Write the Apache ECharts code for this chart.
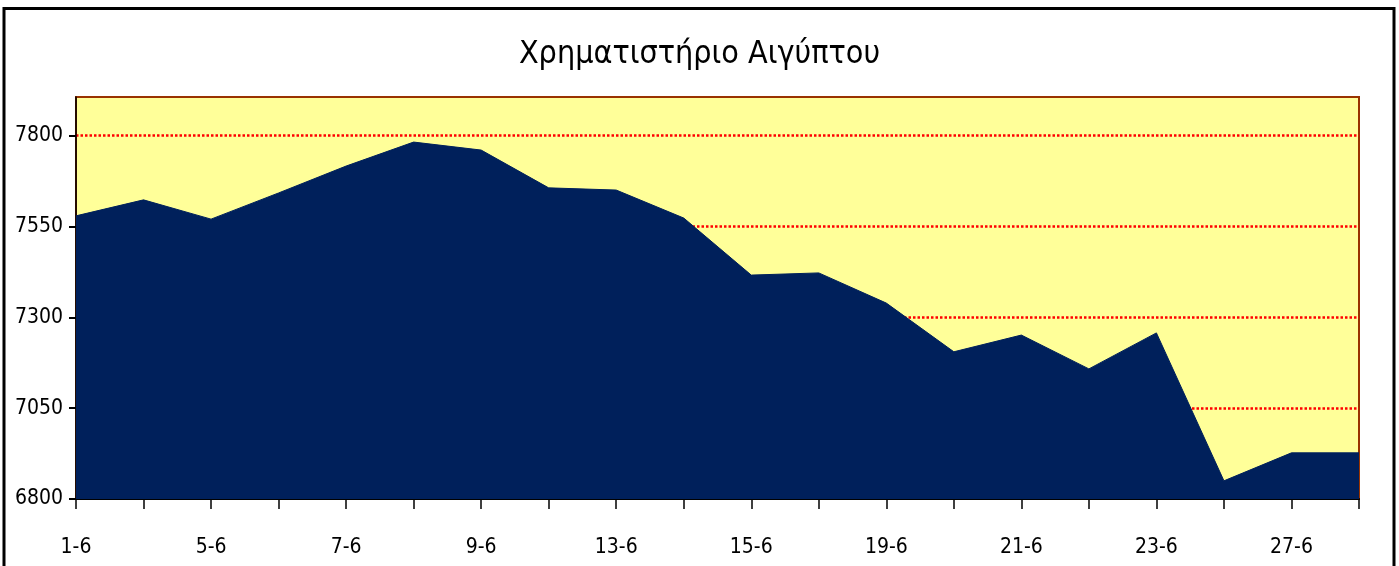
<!DOCTYPE html>
<html>
<head>
<meta charset="utf-8">
<script src="https://cdn.jsdelivr.net/npm/echarts@6/dist/echarts.min.js"></script>
<style>
html,body{margin:0;padding:0;background:#fff;}
#chart{width:1399px;height:566px;}
</style>
</head>
<body>
<div id="chart"></div>
<script>
const title = "Χρηματιστήριο Αιγύπτου";
const categories = ["1-6","4-6","5-6","6-6","7-6","8-6","9-6","12-6","13-6","14-6","15-6","16-6","19-6","20-6","21-6","22-6","23-6","26-6","27-6","28-6"];
const values = [7579,7623,7570,7642,7716,7782,7760,7656,7650,7573,7416,7422,7339,7205,7251,7158,7257,6850,6927,6927];
const yMin = 6800, yMax = 7906, yStep = 250;

const FONT = "'DejaVu Sans Condensed','Liberation Sans Narrow',sans-serif";
const chart = echarts.init(document.getElementById('chart'), null, {renderer:'canvas'});
chart.setOption({
  animation:false,
  backgroundColor:'#ffffff',
  title:{
    text:title, left:'center', top:34,
    textStyle:{fontFamily:FONT, fontSize:32, fontWeight:'normal', color:'#000'}
  },
  graphic:[{
    type:'rect', silent:true, z:100,
    shape:{x:4, y:8.5, width:1390, height:620},
    style:{fill:'none', stroke:'#000', lineWidth:3}
  }],
  grid:{
    left:76, right:40, top:97, bottom:67,
    show:true, backgroundColor:'#FFFF99', borderColor:'#993300', borderWidth:2
  },
  xAxis:{
    type:'category', data:categories, boundaryGap:false,
    axisLine:{show:true, lineStyle:{color:'#000', width:2}},
    axisTick:{show:true, interval:0, length:10, lineStyle:{color:'#000', width:1.5}},
    axisLabel:{interval:1, color:'#000', fontFamily:FONT, fontSize:21, margin:38},
    splitLine:{show:false}
  },
  yAxis:{
    type:'value', min:yMin, max:yMax, interval:yStep,
    axisLine:{show:true, lineStyle:{color:'#000', width:1.5}},
    axisTick:{show:true, length:7, lineStyle:{color:'#000', width:2}},
    axisLabel:{showMaxLabel:false, color:'#000', fontFamily:FONT, fontSize:21, margin:13,
      formatter:function(v){return String(v);}},
    splitLine:{show:true, showMinLine:false, showMaxLine:false,
      lineStyle:{color:'#FF0000', width:2.5, type:[2.5,2]}}
  },
  series:[{
    type:'line', data:values, symbol:'none',
    lineStyle:{color:'#00205B', width:1},
    areaStyle:{color:'#00205B', opacity:1, origin:'start'},
    z:3
  }]
});
</script>
</body>
</html>
